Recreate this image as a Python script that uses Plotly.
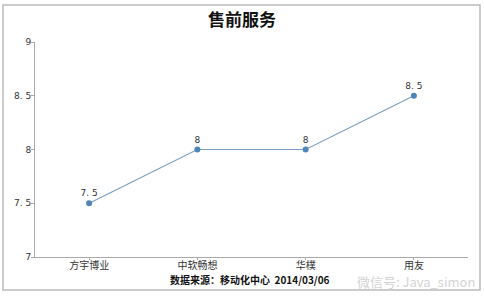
import plotly.graph_objects as go

categories = ["方宇博业", "中软畅想", "华樸", "用友"]
values = [7.5, 8, 8, 8.5]
y_ticks = [7, 7.5, 8, 8.5, 9]
y_tick_labels = ["7", "7. 5", "8", "8. 5", "9"]
value_labels = ["7. 5", "8", "8", "8. 5"]

W, H = 484, 296
L, R, T, B = 35, 16, 42, 39
pw, ph = W - L - R, H - T - B

def px(x):
    return (x - L) / pw

def py(y):
    return (H - B - y) / ph

fig = go.Figure()
fig.add_trace(go.Scatter(
    x=list(range(len(categories))), y=values,
    mode="lines+markers+text",
    line=dict(color="#7f9fc0", width=1.2),
    marker=dict(color="#4f86b8", size=6),
    text=value_labels, textposition="top center",
    textfont=dict(family="DejaVu Sans", size=9, color="#333333"),
    cliponaxis=False, hoverinfo="skip", showlegend=False,
))

fig.update_layout(
    width=W, height=H,
    margin=dict(l=L, r=R, t=T, b=B),
    paper_bgcolor="white", plot_bgcolor="white",
    title=dict(text="<b>售前服务</b>", x=0.5, xref="container", xanchor="center",
               y=1 - 20 / H, yanchor="middle",
               font=dict(family="Noto Sans CJK SC", size=17, color="#111111")),
    xaxis=dict(
        range=[-0.5, len(categories) - 0.5],
        tickvals=list(range(len(categories))), ticktext=categories,
        tickson="boundaries", ticks="outside", ticklen=2, tickcolor="#aaaaaa",
        ticklabelstandoff=-3,
        showline=True, linecolor="#aaaaaa", linewidth=1,
        showgrid=False, zeroline=False,
        tickfont=dict(family="Noto Sans CJK SC", size=10, color="#333333"),
    ),
    yaxis=dict(
        range=[7, 9], tickvals=y_ticks, ticktext=y_tick_labels,
        ticks="outside", ticklen=3, tickcolor="#aaaaaa",
        ticklabelstandoff=-2,
        showline=True, linecolor="#aaaaaa", linewidth=1,
        showgrid=False, zeroline=False,
        tickfont=dict(family="DejaVu Sans", size=9, color="#333333"),
    ),
)

# outer frame
fig.add_shape(type="rect", xref="paper", yref="paper",
              x0=px(3), x1=px(480), y0=py(290), y1=py(5),
              line=dict(color="#bbbbbb", width=1.5), fillcolor="rgba(0,0,0,0)",
              layer="below")

fig.add_annotation(text="<b>数据来源：移动化中心  2014/03/06</b>",
                   xref="paper", yref="paper", x=px(250), y=py(279),
                   xanchor="center", yanchor="middle", showarrow=False,
                   font=dict(family="Noto Sans CJK SC", size=10, color="#111111"))

fig.add_annotation(text="微信号: Java_simon",
                   xref="paper", yref="paper", x=px(477), y=py(281),
                   xanchor="right", yanchor="middle", showarrow=False,
                   font=dict(family="Noto Sans CJK SC", size=13, color="rgba(190,190,190,0.7)"))

fig.write_html("out.html")
